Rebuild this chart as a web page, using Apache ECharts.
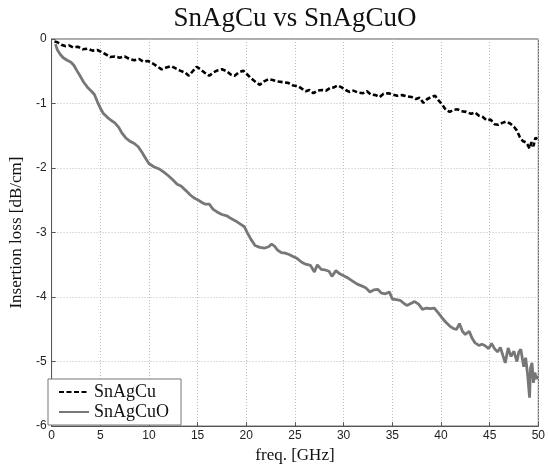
<!DOCTYPE html>
<html>
<head>
<meta charset="utf-8">
<script src="https://cdn.jsdelivr.net/npm/echarts@6/dist/echarts.min.js"></script>
<style>
  html, body { margin: 0; padding: 0; background: #fff; }
  #chart { width: 548px; height: 469px; }
</style>
</head>
<body>
<div id="chart"></div>
<script>
// SnAgCu (dashed black)
const cuFreq = [0.3, 0.6, 1.0, 1.4, 1.8, 2.2, 2.7, 3.2, 3.7, 4.2, 4.7, 5.1, 5.6, 6.0, 6.5, 7.0, 7.5, 8.0, 8.5, 9.0,
  9.4, 9.9, 10.4, 10.9, 11.3, 11.8, 12.3, 12.8, 13.2, 13.7, 14.1, 14.5, 14.9, 15.3, 15.7, 16.2, 16.6, 17.0, 17.5, 18.0,
  18.4, 18.8, 19.2, 19.7, 20.1, 20.5, 21.0, 21.4, 21.8, 22.3, 22.8, 23.3, 23.8, 24.3, 24.8, 25.3, 25.7, 26.1, 26.5, 26.9,
  27.3, 27.8, 28.2, 28.6, 29.0, 29.4, 29.8, 30.2, 30.6, 31.0, 31.5, 32.0, 32.4, 32.8, 33.3, 33.7, 34.1, 34.6, 35.0, 35.5,
  36.0, 36.5, 37.0, 37.4, 37.8, 38.2, 38.6, 39.0, 39.4, 39.8, 40.1, 40.5, 40.9, 41.3, 41.7, 42.1, 42.6, 43.1, 43.5, 43.9,
  44.3, 44.7, 45.1, 45.5, 45.9, 46.3, 46.7, 47.1, 47.5, 47.8, 48.1, 48.4, 48.7, 48.9, 49.1, 49.3, 49.5, 49.7, 49.9]
const cuLoss = [-0.04, -0.05, -0.09, -0.11, -0.10, -0.13, -0.12, -0.16, -0.15, -0.18, -0.17, -0.20, -0.24, -0.28, -0.27, -0.29, -0.27, -0.31, -0.33, -0.31,
  -0.35, -0.34, -0.38, -0.43, -0.47, -0.44, -0.42, -0.46, -0.49, -0.52, -0.57, -0.50, -0.43, -0.47, -0.52, -0.57, -0.52, -0.49, -0.47, -0.50,
  -0.55, -0.57, -0.52, -0.49, -0.55, -0.61, -0.67, -0.71, -0.66, -0.62, -0.64, -0.66, -0.67, -0.68, -0.72, -0.73, -0.77, -0.81, -0.79, -0.84,
  -0.80, -0.79, -0.80, -0.76, -0.75, -0.72, -0.75, -0.79, -0.82, -0.80, -0.83, -0.84, -0.81, -0.86, -0.87, -0.90, -0.85, -0.84, -0.86, -0.88,
  -0.87, -0.89, -0.90, -0.93, -0.91, -0.99, -0.93, -0.90, -0.88, -0.96, -1.01, -1.10, -1.13, -1.10, -1.09, -1.12, -1.13, -1.16, -1.14, -1.19,
  -1.21, -1.26, -1.25, -1.32, -1.33, -1.30, -1.28, -1.31, -1.36, -1.42, -1.52, -1.58, -1.60, -1.64, -1.70, -1.60, -1.66, -1.53, -1.55]

// SnAgCuO (solid grey)
const cuoFreq = [0.4, 0.6, 0.9, 1.2, 1.6, 2.0, 2.3, 2.6, 3.0, 3.3, 3.7, 4.1, 4.4, 4.7, 5.0, 5.3, 5.7, 6.1, 6.5, 6.9,
  7.2, 7.6, 8.0, 8.5, 8.9, 9.3, 9.7, 10.0, 10.5, 11.0, 11.5, 12.0, 12.5, 12.9, 13.3, 13.8, 14.2, 14.6, 15.0, 15.4,
  15.8, 16.2, 16.6, 17.0, 17.5, 18.0, 18.4, 18.9, 19.4, 19.8, 20.1, 20.5, 20.9, 21.4, 21.9, 22.3, 22.6, 22.9, 23.2, 23.6,
  24.0, 24.4, 24.8, 25.2, 25.7, 26.1, 26.6, 27.0, 27.3, 27.7, 28.1, 28.5, 28.8, 29.2, 29.6, 30.0, 30.5, 31.0, 31.4, 31.9,
  32.3, 32.7, 33.1, 33.5, 33.9, 34.3, 34.7, 35.0, 35.4, 35.8, 36.2, 36.5, 36.9, 37.3, 37.7, 38.1, 38.5, 38.9, 39.3, 39.7,
  40.1, 40.5, 40.9, 41.3, 41.6, 41.9, 42.2, 42.5, 42.9, 43.2, 43.5, 43.9, 44.2, 44.5, 44.9, 45.2, 45.5, 45.8, 46.1, 46.3,
  46.6, 46.9, 47.2, 47.5, 47.8, 48.0, 48.2, 48.5, 48.7, 48.9, 49.0, 49.1, 49.2, 49.35, 49.5, 49.65, 49.8, 49.95]
const cuoLoss = [-0.08, -0.17, -0.24, -0.29, -0.33, -0.36, -0.41, -0.49, -0.59, -0.67, -0.75, -0.81, -0.86, -0.97, -1.07, -1.15, -1.21, -1.26, -1.30, -1.37,
  -1.45, -1.53, -1.58, -1.62, -1.67, -1.76, -1.86, -1.93, -1.98, -2.01, -2.06, -2.12, -2.19, -2.25, -2.28, -2.35, -2.41, -2.46, -2.49, -2.53,
  -2.56, -2.56, -2.64, -2.68, -2.72, -2.74, -2.78, -2.82, -2.87, -2.91, -3.00, -3.11, -3.20, -3.23, -3.24, -3.22, -3.18, -3.21, -3.27, -3.31,
  -3.32, -3.34, -3.37, -3.40, -3.46, -3.49, -3.51, -3.61, -3.50, -3.57, -3.58, -3.60, -3.68, -3.59, -3.64, -3.67, -3.71, -3.76, -3.80, -3.83,
  -3.86, -3.92, -3.89, -3.88, -3.94, -3.95, -3.92, -4.03, -4.04, -4.05, -4.10, -4.13, -4.10, -4.07, -4.11, -4.19, -4.17, -4.18, -4.17, -4.24,
  -4.32, -4.39, -4.45, -4.49, -4.50, -4.41, -4.53, -4.58, -4.53, -4.64, -4.71, -4.75, -4.73, -4.75, -4.80, -4.72, -4.80, -4.85, -4.78, -4.76,
  -5.02, -4.79, -4.92, -4.84, -5.00, -4.85, -4.81, -5.08, -4.94, -5.20, -5.38, -5.56, -5.10, -5.02, -5.33, -5.17, -5.27, -5.22]

const xTicks = { min: 0, max: 50, step: 5 }
const yTicks = { min: -6, max: 0, step: 1 }

const zip = (xs, ys) => xs.map((x, i) => [x, ys[i]])

const serif = '"Liberation Serif", "DejaVu Serif", serif'
const sans = '"Liberation Sans", Arial, sans-serif'
const gridLine = { show: true, lineStyle: { color: '#bdbdbd', type: [1, 2], width: 1 } }

const option = {
    animation: false,
    backgroundColor: '#fff',
    title: {
        text: 'SnAgCu vs SnAgCuO',
        left: 290,
        top: 0,
        textAlign: 'center',
        textStyle: { fontFamily: serif, fontSize: 27, fontWeight: 'normal', color: '#111' }
    },
    grid: {
        left: 42,
        right: 8,
        top: 39,
        bottom: 38,
        show: true,
        borderColor: '#555',
        borderWidth: 1
    },
    legend: {
        orient: 'vertical',
        left: 48,
        top: 379,
        itemWidth: 30,
        itemHeight: 12,
        itemGap: 2,
        padding: [4, 12, 4, 10],
        backgroundColor: '#fff',
        borderColor: '#777',
        borderWidth: 1,
        itemStyle: { opacity: 0 },
        textStyle: { fontFamily: serif, fontSize: 18, color: '#111' },
        data: ['SnAgCu', 'SnAgCuO']
    },
    xAxis: {
        type: 'value',
        min: xTicks.min,
        max: xTicks.max,
        interval: xTicks.step,
        name: 'freq. [GHz]',
        nameLocation: 'middle',
        nameGap: 18,
        nameTextStyle: { fontFamily: serif, fontSize: 17, color: '#111' },
        axisLine: { show: true, onZero: false, lineStyle: { color: '#555' } },
        axisTick: { show: true, inside: true, length: 4, lineStyle: { color: '#555' } },
        axisLabel: { fontFamily: sans, fontSize: 12, color: '#222', margin: 4 },
        splitLine: gridLine
    },
    yAxis: {
        type: 'value',
        min: yTicks.min,
        max: yTicks.max,
        interval: yTicks.step,
        name: 'Insertion loss [dB/cm]',
        nameLocation: 'middle',
        nameGap: 22,
        nameTextStyle: { fontFamily: serif, fontSize: 17, color: '#111' },
        axisLine: { show: true, onZero: false, lineStyle: { color: '#555' } },
        axisTick: { show: true, inside: true, length: 4, lineStyle: { color: '#555' } },
        axisLabel: { fontFamily: sans, fontSize: 12, color: '#222', margin: 5 },
        splitLine: gridLine
    },
    series: [
        {
            name: 'SnAgCu',
            type: 'line',
            data: zip(cuFreq, cuLoss),
            symbol: 'none',
            lineStyle: { color: '#000', width: 2.6, type: [5, 2.5] },
            itemStyle: { color: '#000' }
        },
        {
            name: 'SnAgCuO',
            type: 'line',
            data: zip(cuoFreq, cuoLoss),
            symbol: 'none',
            lineStyle: { color: '#777', width: 2.8 },
            itemStyle: { color: '#777' }
        }
    ]
}

const myChart = echarts.init(document.getElementById('chart'))
myChart.setOption(option)
</script>
</body>
</html>
